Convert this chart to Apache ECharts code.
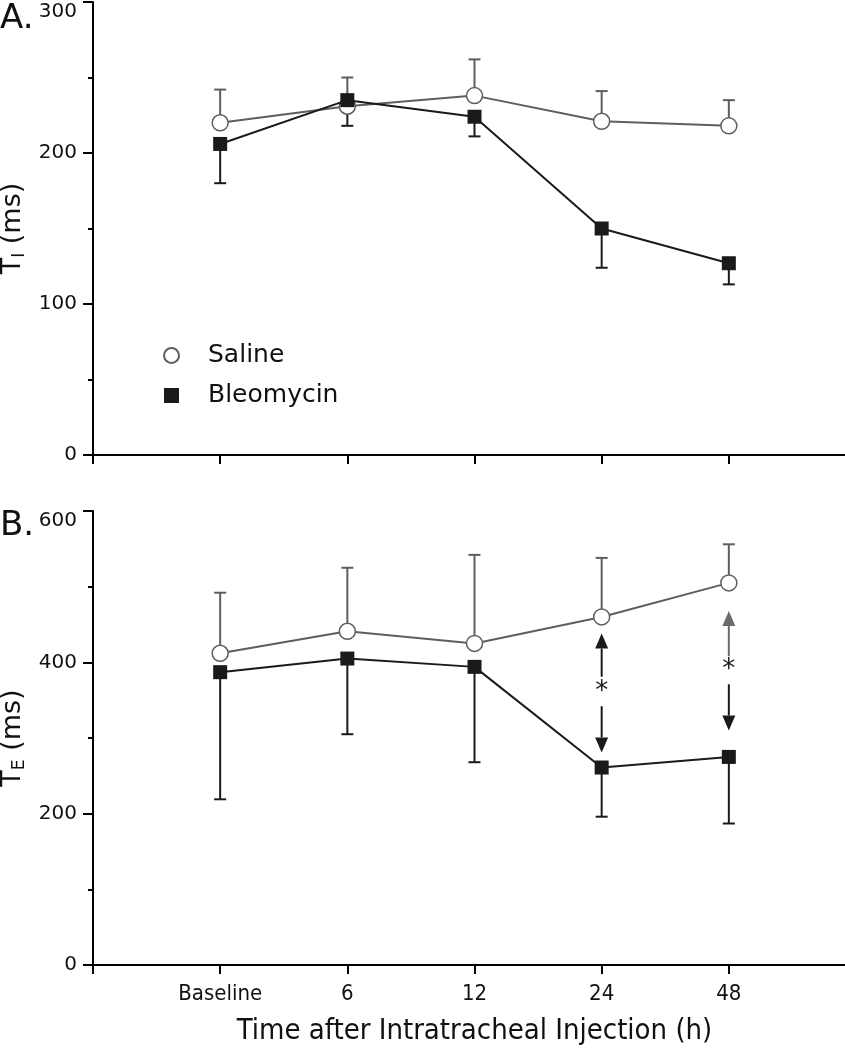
<!DOCTYPE html>
<html>
<head>
<meta charset="utf-8">
<script src="https://cdn.jsdelivr.net/npm/echarts@6/dist/echarts.min.js"></script>
<style>html,body{margin:0;padding:0;background:#fff}#c{width:845px;height:1050px}</style>
</head>
<body>
<div id="c"></div>
<script>
// ---- data ----
const categories = ['Baseline', '6', '12', '24', '48'];
// Panel A: TI (ms)
const tiSaline = [220, 231, 238, 221, 218];
const tiSalineUpper = [242, 250, 262, 241, 235];
const tiBleo = [206, 235, 224, 150, 127];
const tiBleoLower = [180, 218, 211, 124, 113];
// Panel B: TE (ms)
const teSaline = [412, 441, 425, 460, 505];
const teSalineUpper = [492, 525, 542, 538, 556];
const teBleo = [387, 405, 394, 261, 275];
const teBleoLower = [219, 305, 268, 196, 187];
// significance arrows in panel B: [category index, from value, to (tip) value, colour key]
const arrowCats = [3, 3, 4, 4];
const arrowFrom = [381, 342, 408, 371];
const arrowTo = [438, 281, 468, 310];
const arrowGrey = [false, false, true, false];
const starCats = [3, 4];
const starVals = [361, 390];
const yTicksA = [0, 100, 200, 300];
const yTicksB = [0, 200, 400, 600];

const GREY = '#5e5e5e', BLACK = '#1a1a1a';
const FONT = '"DejaVu Sans", Verdana, sans-serif';
const FONTC = '"DejaVu Sans Condensed", "DejaVu Sans", sans-serif';

const xCats = [''].concat(categories).concat(['']);
const pts = (arr) => arr.map((v, i) => [i + 1, v]);
const bars = (vals, ends) => vals.map((v, i) => [i + 1, v, ends[i]]);

function errRender(color) {
  return function (params, api) {
    const p1 = api.coord([api.value(0), api.value(1)]);
    const p2 = api.coord([api.value(0), api.value(2)]);
    const w = 6;
    return {
      type: 'group',
      children: [
        { type: 'line', shape: { x1: p1[0], y1: p1[1], x2: p2[0], y2: p2[1] }, style: { stroke: color, lineWidth: 2 } },
        { type: 'line', shape: { x1: p2[0] - w, y1: p2[1], x2: p2[0] + w, y2: p2[1] }, style: { stroke: color, lineWidth: 2 } }
      ]
    };
  };
}

function arrowRender(params, api) {
  const a = api.coord([api.value(0), api.value(1)]);
  const b = api.coord([api.value(0), api.value(2)]);
  const color = api.value(3) ? '#6a6a6a' : BLACK;
  const dir = b[1] > a[1] ? 1 : -1;
  const L = 15, W = 6.5;
  const base = b[1] - dir * L;
  return {
    type: 'group',
    children: [
      { type: 'line', shape: { x1: a[0], y1: a[1], x2: b[0], y2: base }, style: { stroke: color, lineWidth: 2 } },
      { type: 'polygon', shape: { points: [[b[0], b[1]], [b[0] - W, base], [b[0] + W, base]] }, style: { fill: color } }
    ]
  };
}

function starRender(params, api) {
  const p = api.coord([api.value(0), api.value(1)]);
  return { type: 'text', x: p[0], y: p[1], style: { text: '*', fontSize: 26, fontFamily: FONT, fill: BLACK, align: 'center', verticalAlign: 'middle' } };
}

function yAxisCfg(gridIndex, max, ticks, nameTop) {
  return {
    type: 'value', gridIndex: gridIndex, min: 0, max: max, interval: max / 3,
    axisLine: { show: true, lineStyle: { color: '#000', width: 2 } },
    axisTick: { show: true, length: 10, lineStyle: { color: '#000', width: 2 } },
    minorTick: { show: true, splitNumber: 2, length: 5, lineStyle: { color: '#000', width: 2 } },
    splitLine: { show: false },
    axisLabel: { margin: 16, fontSize: 20, color: '#111', fontFamily: FONT, verticalAlignMaxLabel: 'top',
      formatter: (v) => ticks.indexOf(v) >= 0 ? String(v) : '' },
    name: nameTop, nameLocation: 'middle', nameGap: 53, nameRotate: 90,
    nameTextStyle: {
      fontFamily: FONT, color: '#111',
      rich: {
        t: { fontSize: 27, fontFamily: FONT, color: '#111' },
        s: { fontSize: 17, fontFamily: FONT, color: '#111', verticalAlign: 'bottom', padding: [12, 0, 0, 0] }
      }
    }
  };
}

function xAxisCfg(gridIndex, showLabels) {
  return {
    type: 'category', gridIndex: gridIndex, data: xCats, boundaryGap: false,
    axisLine: { show: true, lineStyle: { color: '#000', width: 2 } },
    axisTick: { show: true, length: 9, interval: 0, lineStyle: { color: '#000', width: 2 } },
    axisLabel: { show: showLabels, interval: 0, margin: 18, fontSize: 22, color: '#111', fontFamily: FONTC },
    splitLine: { show: false },
    name: showLabels ? 'Time after Intratracheal Injection (h)' : '',
    nameLocation: 'middle', nameGap: 52,
    nameTextStyle: { fontSize: 29, color: '#111', fontFamily: FONTC }
  };
}

const chart = echarts.init(document.getElementById('c'), null, { renderer: 'canvas' });
chart.setOption({
  animation: false,
  backgroundColor: '#fff',
  grid: [
    { left: 93, right: -11, top: 2, height: 453, containLabel: false, outerBoundsMode: 'none' },
    { left: 93, right: -11, top: 511, height: 454, containLabel: false, outerBoundsMode: 'none' }
  ],
  xAxis: [xAxisCfg(0, false), xAxisCfg(1, true)],
  yAxis: [yAxisCfg(0, 300, yTicksA, '{t|T}{s|I}{t| (ms)}'), yAxisCfg(1, 600, yTicksB, '{t|T}{s|E}{t| (ms)}')],
  legend: {
    orient: 'vertical', left: 163, top: 343, padding: 0, itemWidth: 15, itemHeight: 15, itemGap: 15,
    textStyle: { fontSize: 25, fontFamily: FONT, color: '#111', padding: [0, 0, 0, 24] },
    data: [{ name: 'Saline', icon: 'circle' }, { name: 'Bleomycin', icon: 'rect' }]
  },
  graphic: [
    { type: 'text', left: 0, top: 2, style: { text: 'A.', fontSize: 34, fontFamily: FONT, fill: '#111' } },
    { type: 'text', left: 0, top: 509, style: { text: 'B.', fontSize: 34, fontFamily: FONT, fill: '#111' } }
  ],
  series: [
    // panel A
    { type: 'custom', xAxisIndex: 0, yAxisIndex: 0, renderItem: errRender(GREY), data: bars(tiSaline, tiSalineUpper), z: 1, silent: true },
    { type: 'custom', xAxisIndex: 0, yAxisIndex: 0, renderItem: errRender(BLACK), data: bars(tiBleo, tiBleoLower), z: 1, silent: true },
    { name: 'Saline', type: 'line', xAxisIndex: 0, yAxisIndex: 0, data: pts(tiSaline), symbol: 'circle', symbolSize: 16,
      lineStyle: { color: GREY, width: 2 }, itemStyle: { color: '#fff', borderColor: GREY, borderWidth: 1.5 }, z: 2 },
    { name: 'Bleomycin', type: 'line', xAxisIndex: 0, yAxisIndex: 0, data: pts(tiBleo), symbol: 'rect', symbolSize: 14,
      lineStyle: { color: BLACK, width: 2 }, itemStyle: { color: BLACK, borderColor: BLACK, borderWidth: 0 }, z: 3 },
    // panel B
    { type: 'custom', xAxisIndex: 1, yAxisIndex: 1, renderItem: errRender(GREY), data: bars(teSaline, teSalineUpper), z: 1, silent: true },
    { type: 'custom', xAxisIndex: 1, yAxisIndex: 1, renderItem: errRender(BLACK), data: bars(teBleo, teBleoLower), z: 1, silent: true },
    { name: 'Saline', type: 'line', xAxisIndex: 1, yAxisIndex: 1, data: pts(teSaline), symbol: 'circle', symbolSize: 16,
      lineStyle: { color: GREY, width: 2 }, itemStyle: { color: '#fff', borderColor: GREY, borderWidth: 1.5 }, z: 2 },
    { name: 'Bleomycin', type: 'line', xAxisIndex: 1, yAxisIndex: 1, data: pts(teBleo), symbol: 'rect', symbolSize: 14,
      lineStyle: { color: BLACK, width: 2 }, itemStyle: { color: BLACK, borderColor: BLACK, borderWidth: 0 }, z: 3 },
    { type: 'custom', xAxisIndex: 1, yAxisIndex: 1, renderItem: arrowRender, z: 4, silent: true,
      data: arrowCats.map((c, i) => [c + 1, arrowFrom[i], arrowTo[i], arrowGrey[i] ? 1 : 0]) },
    { type: 'custom', xAxisIndex: 1, yAxisIndex: 1, renderItem: starRender, z: 4, silent: true,
      data: starCats.map((c, i) => [c + 1, starVals[i]]) }
  ]
});
</script>
</body>
</html>
